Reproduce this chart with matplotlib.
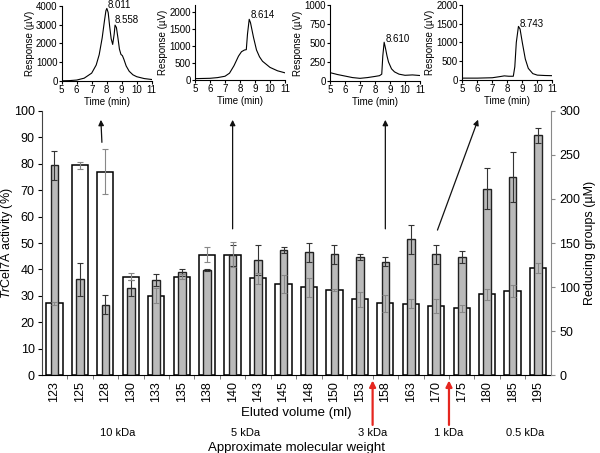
import matplotlib
matplotlib.use("Agg")
import matplotlib.pyplot as plt
import numpy as np

plt.rcParams['font.family'] = ['Liberation Sans', 'DejaVu Sans']
plt.rcParams['mathtext.fontset'] = 'custom'
plt.rcParams['mathtext.it'] = 'Liberation Sans:italic'
plt.rcParams['mathtext.rm'] = 'Liberation Sans'

# main chart data
volumes = ['123', '125', '128', '130', '133', '135', '138', '140', '143', '145',
           '148', '150', '153', '158', '163', '170', '175', '180', '185', '195']
activity = [27.2, 79.3, 77.0, 37.2, 30.1, 37.3, 45.6, 45.5, 36.6, 34.5,
            33.3, 32.2, 28.7, 27.2, 27.1, 26.2, 25.3, 30.6, 31.9, 40.4]
activity_err = [0.5, 1.4, 8.5, 1.3, 2.9, 0.8, 2.8, 4.7, 2.0, 3.3,
                3.6, 0.5, 2.8, 3.2, 1.6, 2.6, 1.3, 2.2, 2.2, 1.9]
reducing = [238, 109, 80, 99, 108, 117, 119, 136, 131, 142,
            139.5, 137, 134, 129, 154, 137, 134, 211.5, 225, 272]
reducing_err = [16, 18.6, 11, 9.5, 7, 4, 1, 12, 17, 3.3,
                11, 11, 3.3, 4.7, 16, 11, 6.5, 23, 28, 8.4]

mw_labels = ['10 kDa', '5 kDa', '3 kDa', '1 kDa', '0.5 kDa']
mw_pos = [2.5, 7.5, 12.5, 15.5, 18.5]
red_arrow_pos = [12.5, 15.5]

# chromatograms
t1 = [5, 5.5, 6, 6.5, 7, 7.3, 7.5, 7.7, 7.85, 7.95, 8.011, 8.1, 8.2, 8.3, 8.4, 8.5, 8.558,
      8.65, 8.75, 8.85, 8.95, 9.05, 9.15, 9.3, 9.5, 9.75, 10, 10.5, 11]
r1 = [10, 20, 50, 150, 420, 850, 1400, 2300, 3200, 3750, 3870, 3650, 2900, 2250, 1950, 2500, 2980,
      2850, 2300, 1700, 1420, 1350, 1150, 800, 520, 330, 230, 130, 80]
t2 = [5, 6, 6.5, 7, 7.3, 7.6, 7.9, 8.1, 8.3, 8.42, 8.5, 8.614, 8.7, 8.9, 9.1, 9.3, 9.5, 10, 10.5, 11]
r2 = [40, 50, 70, 110, 200, 420, 700, 830, 880, 890, 1350, 1780, 1680, 1250, 880, 680, 550, 370, 270, 210]
t3 = [5, 5.5, 6, 6.5, 7, 7.5, 8, 8.3, 8.45, 8.52, 8.61, 8.7, 8.8, 8.9, 9.1, 9.3, 9.6, 10, 10.5, 11]
r3 = [110, 85, 65, 45, 35, 45, 60, 70, 90, 330, 510, 430, 330, 250, 160, 120, 90, 75, 80, 72]
t4 = [5, 6, 7, 7.5, 7.8, 8.1, 8.4, 8.5, 8.6, 8.743, 8.85, 9.0, 9.2, 9.4, 9.7, 10, 10.5, 11]
r4 = [50, 50, 60, 90, 110, 100, 100, 350, 1000, 1430, 1360, 1000, 560, 310, 170, 130, 120, 115]
peaks = ['8.011', '8.558', '8.614', '8.610', '8.743']

fig = plt.figure(figsize=(6, 4.53), dpi=100)
ax = fig.add_axes([0.0695, 0.1715, 0.8485, 0.5841])
ax2 = ax.twinx()

x = np.arange(len(volumes))
ax.bar(x, activity, width=0.64, color='white', edgecolor='black', linewidth=1.1, zorder=2)
ax2.bar(x, reducing, width=0.30, color='#bababa', edgecolor='#222222', linewidth=1.0, zorder=2)
ax2.errorbar(x, reducing, yerr=reducing_err, fmt='none', ecolor='#333333',
             elinewidth=0.8, capsize=2, capthick=0.8, zorder=3)
# activity errors drawn on the right axis (100 % <-> 300 uM) so they show over the grey bars
ax2.errorbar(x, np.array(activity) * 3, yerr=np.array(activity_err) * 3, fmt='none',
             ecolor='#888888', elinewidth=0.8, capsize=2, capthick=0.8, zorder=3)

ax.set_xlim(-0.5, len(volumes) - 0.5)
ax.set_ylim(0, 100)
ax2.set_ylim(0, 300)
ax.set_yticks(range(0, 101, 10))
ax2.set_yticks(range(0, 301, 50))
ax.set_xticks(x)
ax.set_xticklabels(volumes, rotation=90, fontsize=9)
ax.set_xticks(x[:-1] + 0.5, minor=True)
ax.tick_params(axis='x', which='major', length=0, pad=4)
ax.tick_params(axis='x', which='minor', length=3, color='#666666')
ax.tick_params(axis='y', labelsize=9, length=3, pad=2)
ax2.tick_params(axis='y', labelsize=9, length=3, pad=3, color='#888888')

for a in (ax, ax2):
    a.spines['top'].set_visible(False)
ax.spines['right'].set_visible(False)
ax2.spines['left'].set_visible(False)
ax2.spines['bottom'].set_visible(False)
ax2.spines['right'].set_color('#888888')
ax.spines['left'].set_color('#444444')

ax.set_ylabel(r'$\mathit{Tr}$Cel7A activity (%)', fontsize=9)
ax.yaxis.set_label_coords(-0.053, 0.5)
ax2.set_ylabel('Reducing groups (µM)', fontsize=9)
ax2.yaxis.set_label_coords(1.065, 0.5)
ax.set_xlabel('Eluted volume (ml)', fontsize=9.5, labelpad=4)

for lab, p in zip(mw_labels, mw_pos):
    ax.text(p, -21.8, lab, ha='center', va='center', fontsize=8, clip_on=False)
ax.text(9.5, -27.3, 'Approximate molecular weight', ha='center', va='center', fontsize=9.5, clip_on=False)
for p in red_arrow_pos:
    ax.annotate('', xy=(p, -0.9), xytext=(p, -19.8), annotation_clip=False,
                arrowprops=dict(arrowstyle='-|>', color='#e5261f', lw=1.6, mutation_scale=9))

# arrows from fractions up to the chromatograms
arrows = [((1.87, 87), (1.82, 97.6)), ((7, 54.3), (7, 97.6)),
          ((13, 54.3), (13, 97.6)), ((15.01, 53.9), (16.68, 97.6))]
for start, tip in arrows:
    ax.annotate('', xy=tip, xytext=start, annotation_clip=False,
                arrowprops=dict(arrowstyle='-|>', color='#111111', lw=0.9, mutation_scale=8))

# insets
insets = [
    ([0.1028, 0.8212, 0.15, 0.1656], t1, r1, 4000, 1000),
    ([0.3250, 0.8234, 0.15, 0.1656], t2, r2, 2200, 500),
    ([0.5500, 0.8212, 0.15, 0.1678], t3, r3, 1000, 250),
    ([0.7705, 0.8234, 0.15, 0.1656], t4, r4, 2000, 500),
]
for pos, t, r, top, step in insets:
    ia = fig.add_axes(pos)
    ia.plot(t, r, color='black', lw=0.8)
    ia.set_xlim(5, 11)
    ia.set_ylim(0, top)
    ia.set_xticks(range(5, 12))
    ia.set_yticks(np.arange(0, top + 1, step))
    ia.tick_params(labelsize=7, length=2, pad=1)
    ia.spines['top'].set_visible(False)
    ia.spines['right'].set_visible(False)
    ia.set_xlabel('Time (min)', fontsize=7, labelpad=1)
    ia.set_ylabel('Response (µV)', fontsize=7, labelpad=1)
    if pos[0] < 0.2:
        ia.text(8.08, 4050, peaks[0], fontsize=7, va='center', clip_on=False)
        ia.text(8.55, 3250, peaks[1], fontsize=7, va='center')
    elif pos[0] < 0.4:
        ia.text(8.68, 1900, peaks[2], fontsize=7, va='center')
    elif pos[0] < 0.6:
        ia.text(8.72, 555, peaks[3], fontsize=7, va='center')
    else:
        ia.text(8.84, 1500, peaks[4], fontsize=7, va='center')

plt.savefig('out.png', dpi=100)
